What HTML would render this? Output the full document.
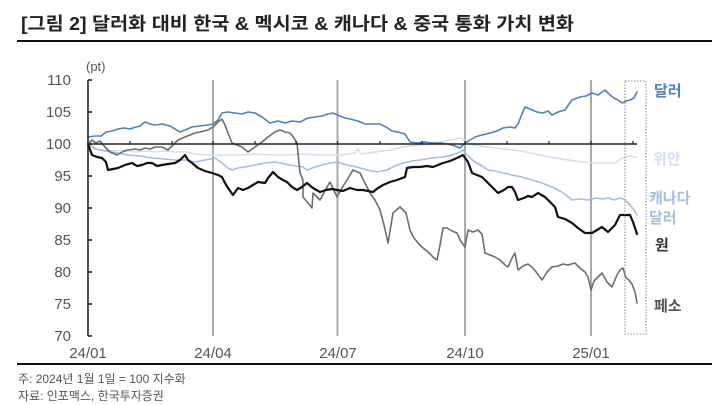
<!DOCTYPE html>
<html><head><meta charset="utf-8"><style>
html,body{margin:0;padding:0;background:#fff;}
svg{display:block;}
text{font-family:"Liberation Sans","Noto Sans CJK KR",sans-serif;}
</style></head><body>
<svg width="724" height="405" viewBox="0 0 724 405" xmlns="http://www.w3.org/2000/svg">
<text x="21" y="30" font-size="18" font-weight="bold" fill="#222" textLength="553" lengthAdjust="spacingAndGlyphs">[그림 2] 달러화 대비 한국 &amp; 멕시코 &amp; 캐나다 &amp; 중국 통화 가치 변화</text>
<line x1="17" y1="41" x2="712" y2="41" stroke="#111" stroke-width="2"/>
<line x1="17" y1="364" x2="712" y2="364" stroke="#111" stroke-width="2"/>
<text x="18" y="383" font-size="12" fill="#555">주: 2024년 1월 1일 = 100 지수화</text>
<text x="18" y="400" font-size="12" fill="#555">자료: 인포맥스, 한국투자증권</text>

<text x="86" y="71" font-size="13" fill="#555">(pt)</text>
<g font-size="15" fill="#555" text-anchor="end">
<text x="71" y="85">110</text><text x="71" y="117">105</text><text x="71" y="149">100</text>
<text x="71" y="181">95</text><text x="71" y="213">90</text><text x="71" y="245">85</text>
<text x="71" y="277">80</text><text x="71" y="309">75</text><text x="71" y="341">70</text>
</g>
<g font-size="15" fill="#555" text-anchor="middle">
<text x="88" y="358">24/01</text><text x="213" y="358">24/04</text><text x="338" y="358">24/07</text>
<text x="465" y="358">24/10</text><text x="591" y="358">25/01</text>
</g>

<g stroke="#aaa" stroke-width="2">
<line x1="213" y1="80" x2="213" y2="336"/><line x1="337.5" y1="80" x2="337.5" y2="336"/>
<line x1="465" y1="80" x2="465" y2="336"/><line x1="591" y1="80" x2="591" y2="336"/>
</g>

<g fill="none" stroke-linejoin="round" stroke-linecap="round">
<polyline stroke="#d3dff0" stroke-width="1.6" points="88,144 95,148 102,150 115,151 125,150 135,152 145,151 155,152 165,151 175,152 185,152 195,154 205,155 215,155 225,155 240,155 255,154 275,155 290,155 300,154 320,155 340,155 355,153 358,149 361,154 375,152 390,150 403,147 420,145 437,143 450,140 460,138 468,143 480,146 495,148 515,150 535,154 555,158 575,161 595,163 615,163 622,158 628,156 637,157"/>
<polyline stroke="#a4bddf" stroke-width="1.6" points="88,144 95,149 105,151 118,153 128,155 140,156 152,158 165,159 175,160 185,160 195,162 205,160 215,158 222,163 228,168 232,170 238,168 245,167 255,165 265,163 275,162 285,164 295,166 303,167 307,170 315,167 325,164 337,162 347,165 357,167 367,170 377,172 387,170 395,166 403,163 412,161 420,160 432,158 443,157 452,155 460,152 463,150 468,156 475,162 482,166 488,170 495,171 503,173 512,175 522,177 532,180 542,183 552,187 560,191 566,195 572,200 580,199 588,200 596,198 602,199 608,198 614,200 620,198 625,200 630,205 634,210 637,215"/>
<polyline stroke="#4f81bd" stroke-width="1.6" points="88,137 95,136 101,136 106,132 112,131 118,129 124,128 130,129 136,127 140,126 145,122 150,124 155,125 162,124 170,126 175,129 180,132 185,130 192,127 200,126 207,125 213,124 218,120 222,113 228,112 235,113 242,114 248,112 255,113 262,117 270,123 278,121 285,123 292,121 300,122 308,118 315,117 322,116 328,114 333,113 340,116 345,118 350,119 358,121 365,124 372,124 380,124 386,127 392,131 398,132 405,134 410,142 418,143 425,142 432,143 440,143 448,144 455,146 460,148 465,143 470,140 475,137 482,135 490,133 497,131 503,128 510,127 515,128 518,124 522,114 525,107 530,109 537,112 543,113 548,111 552,115 558,112 565,110 569,104 572,100 580,97 586,96 592,93 598,95 605,90 610,95 614,98 618,100 622,103 626,101 630,100 634,98 637,92"/>
<polyline stroke="#6d6d6d" stroke-width="1.6" points="88,144 92,140 96,143 100,141 105,147 110,152 117,155 122,152 128,150 135,149 140,150 145,148 150,149 155,147 162,147 168,150 173,145 178,140 185,137 190,135 195,133 200,132 208,130 213,127 218,122 222,119 225,125 228,133 232,143 237,145 242,147 248,152 255,147 262,142 268,137 275,132 280,130 285,132 290,133 294,138 297,143 300,173 303,180 303,197 308,203 312,208 313,193 320,200 327,187 330,182 337,197 342,188 347,180 353,170 360,173 365,183 370,193 375,200 380,210 384,225 388,243 393,213 400,207 406,213 410,230 414,238 418,243 423,248 428,252 433,257 437,260 440,245 443,228 447,228 452,231 457,233 460,240 465,247 468,230 473,232 478,230 482,234 485,253 490,255 495,257 500,260 505,265 508,267 512,258 515,253 518,270 523,266 528,264 532,267 537,273 542,280 547,272 552,267 558,266 563,264 568,265 575,263 580,268 585,272 588,277 591,290 594,281 598,277 602,273 607,282 612,287 617,275 620,270 623,268 626,278 629,280 632,284 635,292 637,303"/>
<polyline stroke="#111" stroke-width="2.2" points="88,144 92,155 97,157 102,158 106,162 108,170 113,169 118,168 125,165 132,163 137,166 142,165 147,163 152,163 157,166 162,165 168,164 175,163 180,160 185,155 188,160 192,163 198,168 205,171 212,173 218,175 222,177 225,183 228,188 233,195 238,188 243,190 248,188 253,185 258,182 265,183 268,178 273,172 278,177 283,180 287,182 292,187 297,190 302,187 307,183 313,188 320,192 326,190 332,189 337,190 343,191 350,188 357,190 363,190 368,191 373,192 378,188 383,185 390,182 397,180 405,177 407,168 413,167 420,167 427,166 433,167 438,165 443,163 450,161 457,158 463,155 468,162 472,173 477,175 482,177 488,183 493,188 498,193 504,190 508,187 512,187 515,192 518,200 524,198 528,196 532,197 538,193 545,197 550,202 555,207 558,217 565,219 572,223 578,228 585,233 592,233 597,230 602,227 608,232 612,228 615,225 620,215 626,215 630,215 633,222 635,228 637,234"/>
</g>

<line x1="88" y1="144" x2="637" y2="144" stroke="#222" stroke-width="1.6"/>
<g stroke="#222" stroke-width="1.2">
<line x1="130" y1="144" x2="130" y2="141"/><line x1="172" y1="144" x2="172" y2="141"/><line x1="213" y1="144" x2="213" y2="141"/>
<line x1="255" y1="144" x2="255" y2="141"/><line x1="296" y1="144" x2="296" y2="141"/><line x1="337.5" y1="144" x2="337.5" y2="141"/>
<line x1="380" y1="144" x2="380" y2="141"/><line x1="422" y1="144" x2="422" y2="141"/><line x1="465" y1="144" x2="465" y2="141"/>
<line x1="507" y1="144" x2="507" y2="141"/><line x1="549" y1="144" x2="549" y2="141"/><line x1="591" y1="144" x2="591" y2="141"/>
<line x1="633" y1="144" x2="633" y2="141"/>
</g>

<g stroke="#222" stroke-width="1.6" fill="none">
<line x1="88" y1="80" x2="88" y2="336"/>
<line x1="88" y1="80" x2="92" y2="80"/><line x1="88" y1="112" x2="92" y2="112"/><line x1="88" y1="144" x2="92" y2="144"/>
<line x1="88" y1="176" x2="92" y2="176"/><line x1="88" y1="208" x2="92" y2="208"/><line x1="88" y1="240" x2="92" y2="240"/>
<line x1="88" y1="272" x2="92" y2="272"/><line x1="88" y1="304" x2="92" y2="304"/><line x1="88" y1="336" x2="92" y2="336"/>
</g>

<rect x="625" y="81" width="21" height="253" fill="none" stroke="#888" stroke-width="1" stroke-dasharray="1.5,1.5"/>

<g font-size="15" font-weight="bold">
<text x="654" y="96" fill="#4f81bd">달러</text>
<text x="653" y="164" fill="#d3dff0">위안</text>
<text x="649" y="203" fill="#a4bddf">캐나다</text>
<text x="649" y="223" fill="#a4bddf">달러</text>
<text x="655" y="250" fill="#333">원</text>
<text x="654" y="311" fill="#555">페소</text>
</g>
</svg>
</body></html>
